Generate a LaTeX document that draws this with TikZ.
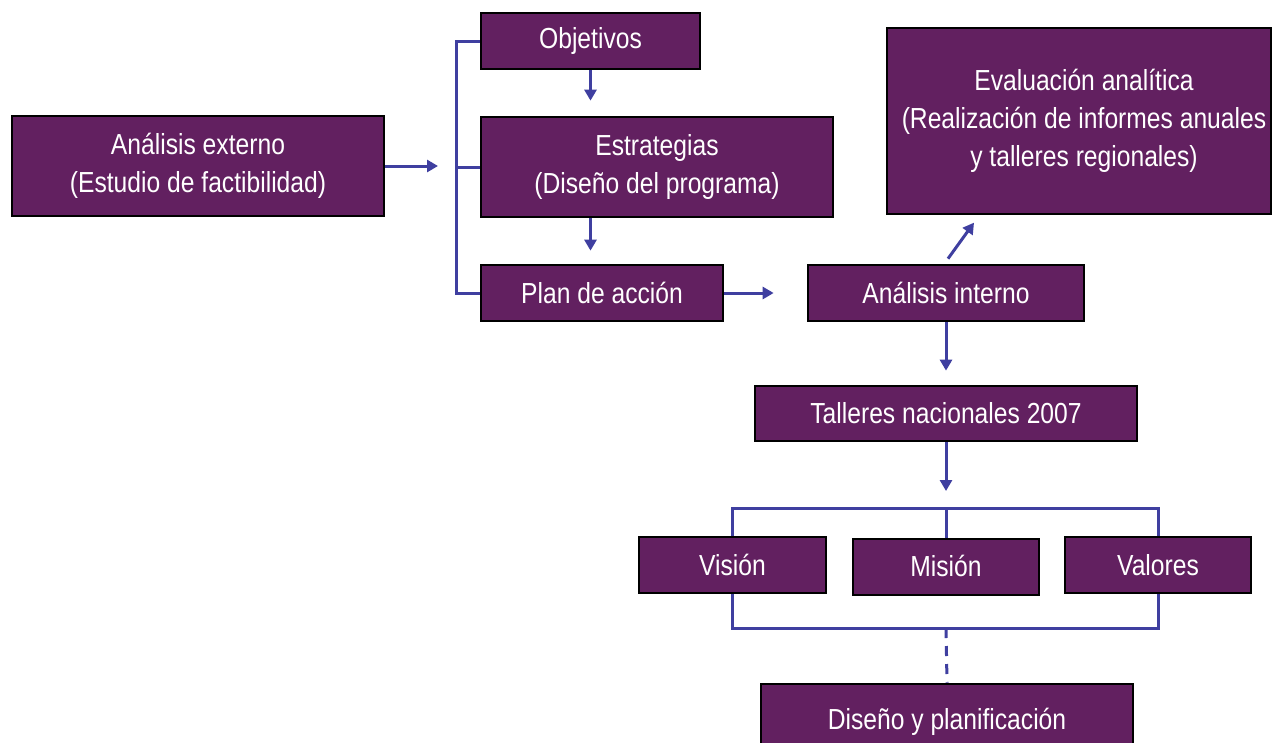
\documentclass[tikz,border=0pt]{standalone}
\usepackage{fontspec}
\setmainfont{Liberation Sans}[FakeStretch=0.85]
\usetikzlibrary{arrows.meta,calc}
\definecolor{boxfill}{HTML}{622060}
\definecolor{linkblue}{HTML}{3F3FA0}
\tikzset{
  box/.style={draw=black, line width=2.7pt, fill=boxfill, text=white, align=center,
    inner sep=0pt, font=\fontsize{29}{38}\selectfont},
  conn/.style={draw=linkblue, line width=3pt},
  arr/.style={conn, -{Triangle[length=11pt,width=12pt]}},
}
\begin{document}
\begin{tikzpicture}[x=1pt,y=-1pt]
\useasboundingbox (0,0) rectangle (1273,742);
\clip (0,0) rectangle (1273,742);
\fill[white] (0,0) rectangle (1273,742);
% nodes
\node[box, minimum width=372pt, minimum height=100pt] (ae) at (198,166) {Análisis externo\\(Estudio de factibilidad)};
\node[box, minimum width=219pt, minimum height=56pt] (obj) at (590.5,41) {Objetivos};
\node[box, minimum width=352pt, minimum height=100pt] (est) at (657,167) {Estrategias\\(Diseño del programa)};
\node[box, minimum width=242pt, minimum height=56pt] (plan) at (602,293) {Plan de acción};
\node[box, minimum width=276pt, minimum height=56pt] (ai) at (946,293) {Análisis interno};
\node[box, minimum width=384pt, minimum height=186pt] (ev) at (1079,121) {\hspace*{10pt}Evaluación analítica\\\hspace*{10pt}(Realización de informes anuales\\\hspace*{10pt}y talleres regionales)};
\node[box, minimum width=382pt, minimum height=55pt] (tal) at (946,413.5) {Talleres nacionales 2007};
\node[box, minimum width=187pt, minimum height=56pt] (vis) at (732.5,565) {Visión};
\node[box, minimum width=186pt, minimum height=56pt] (mis) at (946,567) {\raisebox{2pt}{Misión}};
\node[box, minimum width=186pt, minimum height=56pt] (val) at (1158,565) {Valores};
\node[box, minimum width=372pt, minimum height=92pt, text depth=0pt] (dis) at (947,730) {\raisebox{23pt}{Diseño y planificación}};
% coordinates
\coordinate (bk) at (456,166);
\coordinate (tb) at (946,508);
\coordinate (bb) at (946,628);
% connectors
\draw[arr, shorten >=18pt] (ae.east) -- (bk);
\draw[conn] (obj.west) -- (obj.west -| bk) |- (plan.west);
\draw[conn] (est.west) -- (est.west -| bk);
\draw[arr, shorten >=15pt] (obj.south) -- (obj.south |- est.north);
\draw[arr, shorten >=13pt] (obj.south |- est.south) -- (obj.south |- plan.north);
\draw[arr, shorten >=33pt] (plan.east) -- (ai.west);
\draw[arr] ($(ai.north)+(2,-5)$) -- ($(ai.north)+(28,-41)$);
\draw[arr, shorten >=14pt] (ai.south) -- (tal.north);
\draw[arr, shorten >=17pt] (tal.south) -- (tb);
\draw[conn] (vis.north) |- (tb) -| (val.north);
\draw[conn] (mis.north) -- (tb);
\draw[conn] (vis.south) |- (bb) -| (val.south);
\draw[conn, dash pattern=on 10pt off 8pt] (bb) -- (dis.north);
\end{tikzpicture}
\end{document}
